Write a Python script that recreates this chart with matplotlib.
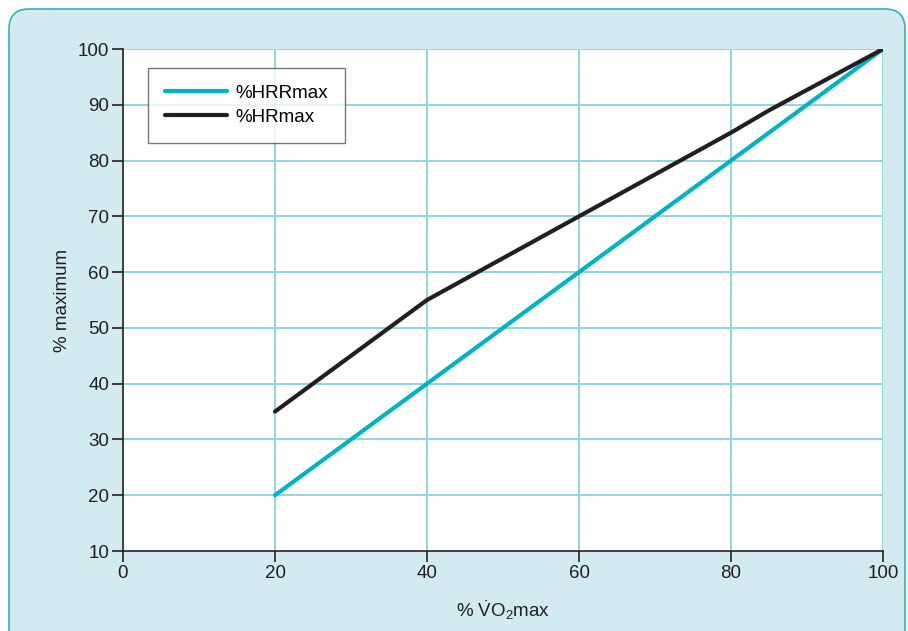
import matplotlib
matplotlib.use('Agg')
import matplotlib.pyplot as plt
from matplotlib.patches import FancyBboxPatch

plt.rcParams['font.family'] = ['Liberation Sans', 'DejaVu Sans']
plt.rcParams['mathtext.fontset'] = 'custom'
plt.rcParams['mathtext.rm'] = 'Liberation Sans'
plt.rcParams['mathtext.it'] = 'Liberation Sans'

# data
hrr_x = [20, 40, 60, 80, 100]
hrr_y = [20, 40, 60, 80, 100]
hr_x = [20, 40, 60, 80, 85, 100]
hr_y = [35, 55, 70, 85, 89, 100]
xticks = [0, 20, 40, 60, 80, 100]
yticks = [10, 20, 30, 40, 50, 60, 70, 80, 90, 100]

BG = '#d3ebf0'
GRID = '#90d5e0'
CYAN = '#00b4c6'
DARK = '#231f20'

fig = plt.figure(figsize=(9.08, 6.31), dpi=100)
fig.patch.set_facecolor('white')

# rounded panel behind the chart
box = FancyBboxPatch((9/908, -0.05), 896/908, 1 - 9/631 + 0.05,
                     boxstyle='round,pad=0,rounding_size=0.022',
                     transform=fig.transFigure, facecolor=BG,
                     edgecolor='#2fb3c4', linewidth=1.2, zorder=-10,
                     mutation_aspect=908/631)
fig.patches.append(box)

ax = fig.add_axes([123/908, 1 - 551/631, 760/908, 502/631])
ax.set_zorder(1)
ax.set_facecolor('white')
ax.set_xlim(0, 100)
ax.set_ylim(10, 100)

for v in xticks[1:]:
    ax.axvline(v, color=GRID, lw=1.4, zorder=1)
for v in yticks[1:]:
    ax.axhline(v, color=GRID, lw=1.4, zorder=1)

ax.plot(hrr_x, hrr_y, color=CYAN, lw=3, label='%HRRmax', zorder=3,
        solid_capstyle='round')
ax.plot(hr_x, hr_y, color=DARK, lw=3, label='%HRmax', zorder=3,
        solid_capstyle='round')

for s in ['top', 'right']:
    ax.spines[s].set_visible(False)
for s in ['left', 'bottom']:
    ax.spines[s].set_color(DARK)
    ax.spines[s].set_linewidth(1.2)
    ax.spines[s].set_zorder(4)

ax.set_xticks(xticks)
ax.set_yticks(yticks)
ax.tick_params(direction='out', length=8, width=1.2, color=DARK,
               labelsize=13.5, labelcolor=DARK, pad=2)

ax.set_xlabel(r'% $\dot{\mathrm{V}}\mathrm{O}_2$max', fontsize=13.5,
              color=DARK, labelpad=12)
ax.set_ylabel('% maximum', fontsize=13.5, color=DARK, labelpad=5)

leg = ax.legend(loc='upper left', bbox_to_anchor=(25/760, 1 - 19/502),
                fontsize=13.5, frameon=True, fancybox=False,
                handlelength=3.3, handletextpad=0.45, borderpad=0.9,
                labelspacing=0.35, borderaxespad=0)
leg.get_frame().set_edgecolor('#555555')
leg.get_frame().set_linewidth(1.0)
leg.set_zorder(5)

fig.savefig('out.png', dpi=100)
